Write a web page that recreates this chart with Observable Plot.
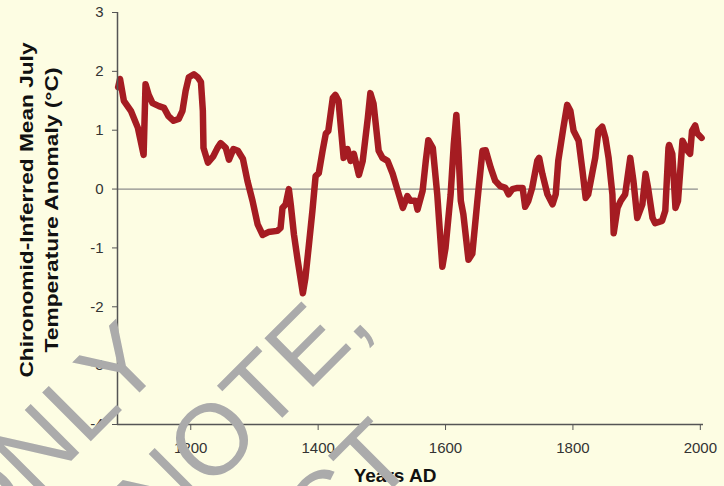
<!DOCTYPE html>
<html>
<head>
<meta charset="utf-8">
<script src="https://cdn.jsdelivr.net/npm/d3@7"></script>
<script src="https://cdn.jsdelivr.net/npm/@observablehq/plot@0.6"></script>
<style>
  html, body { margin: 0; padding: 0; background: #FDFDE3; }
  #chart svg { display: block; }
</style>
</head>
<body>
<div id="chart"></div>
<script>
const years = [1086,1089,1095,1106,1117,1126,1129,1134,1140,1150,
1158,1165,1173,1181,1187,1192,1197,1205,1211,1216,
1219,1220,1227,1235,1242,1247,1255,1260,1267,1274,
1282,1289,1297,1305,1313,1322,1336,1341,1344,1349,
1354,1357,1362,1368,1376,1380,1385,1391,1396,1401,
1407,1412,1416,1423,1427,1432,1438,1440,1446,1451,
1456,1464,1470,1478,1482,1487,1495,1501,1509,1517,
1525,1533,1540,1545,1553,1556,1564,1569,1573,1580,
1587,1595,1600,1608,1613,1617,1620,1624,1628,1636,
1642,1650,1658,1663,1671,1678,1686,1694,1699,1705,
1713,1721,1725,1730,1736,1744,1747,1752,1760,1768,
1773,1777,1785,1791,1796,1801,1809,1815,1820,1824,
1831,1835,1840,1846,1851,1856,1862,1864,1870,1875,
1882,1890,1895,1901,1909,1914,1918,1925,1929,1940,
1945,1950,1951,1956,1961,1965,1972,1980,1984,1987,
1992,1995,2002];

const anomaly = [1.73,1.87,1.50,1.33,1.04,0.58,1.78,1.60,1.46,1.41,
1.38,1.24,1.16,1.19,1.33,1.67,1.90,1.95,1.90,1.82,
1.33,0.70,0.45,0.55,0.70,0.78,0.70,0.50,0.68,0.65,
0.51,0.14,-0.20,-0.60,-0.78,-0.73,-0.71,-0.66,-0.32,-0.26,
0.00,-0.26,-0.77,-1.22,-1.77,-1.51,-1.00,-0.37,0.22,0.27,
0.65,0.94,0.99,1.55,1.60,1.50,0.77,0.53,0.68,0.48,
0.60,0.24,0.48,1.21,1.63,1.45,0.65,0.53,0.48,0.26,
-0.03,-0.32,-0.12,-0.20,-0.20,-0.35,-0.03,0.48,0.83,0.70,
-0.09,-1.32,-1.00,-0.09,0.77,1.26,0.70,-0.20,-0.43,-1.20,
-1.10,-0.20,0.65,0.66,0.36,0.14,0.05,0.02,-0.09,0.00,
0.02,0.02,-0.30,-0.20,0.02,0.48,0.53,0.26,-0.09,-0.26,
-0.09,0.48,1.04,1.43,1.33,0.99,0.82,0.31,-0.15,-0.09,
0.31,0.53,0.99,1.06,0.87,0.53,-0.09,-0.75,-0.32,-0.20,
-0.09,0.53,0.14,-0.49,-0.26,0.26,0.02,-0.49,-0.58,-0.54,
-0.37,0.70,0.75,0.60,-0.32,-0.20,0.82,0.65,0.60,0.99,
1.08,0.95,0.87];

const xTicks = [1200, 1400, 1600, 1800, 2000];
const yTicks = [-4, -3, -2, -1, 0, 1, 2, 3];
const xDomain = [1085, 2005];
const yDomain = [-4, 3];
const zeroLineEnd = 1997;
const yTitleLines = ["Chironomid-Inferred Mean July", "Temperature Anomaly (°C)"];
const xTitle = "Years AD";
const watermark = ["ONLY", "NOTE,", "CT"];

const data = years.map((y, i) => ({year: y, value: anomaly[i]}));
const font = "'Liberation Sans', Arial, sans-serif";

const plot = Plot.plot({
  width: 724,
  height: 486,
  marginLeft: 117,
  marginRight: 21,
  marginTop: 12,
  marginBottom: 62,
  style: {background: "#FDFDE3", fontFamily: font, fontSize: "15px", color: "#333"},
  x: {domain: xDomain, label: null},
  y: {domain: yDomain, label: null},
  marks: [
    Plot.ruleY([{y: 0, x1: xDomain[0], x2: zeroLineEnd}], {y: "y", x1: "x1", x2: "x2", stroke: "#8c8c8c", strokeWidth: 1.2}),
    Plot.line(data, {x: "year", y: "value", stroke: "#A51C22", strokeWidth: 6.5, strokeLinejoin: "round", strokeLinecap: "round"}),
    Plot.ruleX([xDomain[0]], {stroke: "#555", strokeWidth: 1.5}),
    Plot.ruleY([yDomain[0]], {stroke: "#555", strokeWidth: 1.5}),
    Plot.axisX({ticks: xTicks, tickFormat: d => String(d), tickSize: 6, tickPadding: 12, stroke: "#555", fill: "#333", fontSize: 15}),
    Plot.axisY({ticks: yTicks, tickFormat: d => String(d), tickSize: 5, tickPadding: 9, stroke: "#555", fill: "#333", fontSize: 15})
  ]
});

document.getElementById("chart").appendChild(plot);
const svg = d3.select(plot);

// Y-axis title (two lines)
const yTitlePos = [{x: 33, len: 335}, {x: 58, len: 285}];
yTitleLines.forEach((t, i) => {
  svg.append("text")
    .attr("transform", `translate(${yTitlePos[i].x},210) rotate(-90)`)
    .attr("text-anchor", "middle")
    .attr("font-family", font)
    .attr("font-weight", "bold")
    .attr("font-size", 19)
    .attr("fill", "#111")
    .attr("textLength", yTitlePos[i].len)
    .attr("lengthAdjust", "spacingAndGlyphs")
    .text(t);
});

// X-axis title
svg.append("text")
  .attr("x", 395).attr("y", 482)
  .attr("text-anchor", "middle")
  .attr("font-family", font)
  .attr("font-weight", "bold")
  .attr("font-size", 19)
  .attr("fill", "#111")
  .text(xTitle);

// Watermark text (drawn on top)
const wmPos = [[-21, 553], [158, 542], [324, 557]];
watermark.forEach((t, i) => {
  svg.append("text")
    .attr("transform", `translate(${wmPos[i][0]},${wmPos[i][1]}) rotate(-45)`)
    .attr("text-anchor", "start")
    .attr("font-family", font)
    .attr("font-size", 100)
    .attr("fill", "#ABABAB")
    .text(t);
});
</script>
</body>
</html>
